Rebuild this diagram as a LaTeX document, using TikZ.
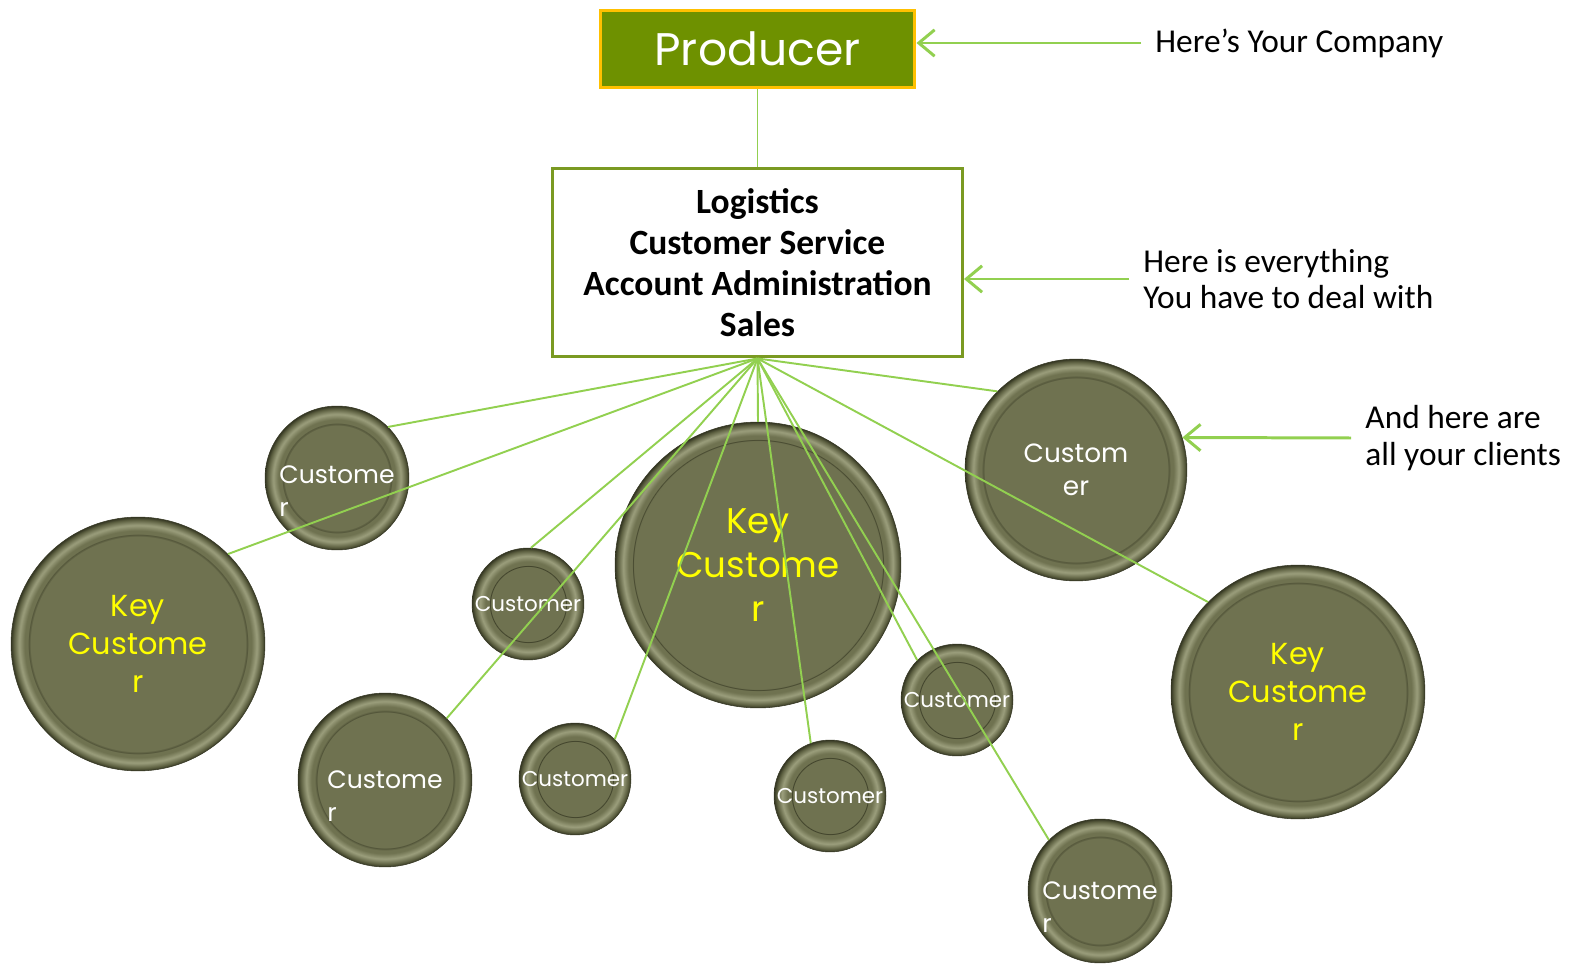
\documentclass[tikz,border=0pt]{standalone}
\usepackage{fontspec}
\setmainfont{Carlito}
\newfontfamily\roundfont{Poppins}
\usetikzlibrary{arrows.meta}
\definecolor{linkgreen}{RGB}{146,208,80}
\definecolor{boxgreen}{RGB}{110,145,0}
\definecolor{boxgold}{RGB}{255,192,0}
\definecolor{rimgreen}{RGB}{122,154,34}
\definecolor{cmain}{RGB}{111,114,80}
\definecolor{cline}{RGB}{66,68,44}
\definecolor{chigh}{RGB}{155,158,124}
\definecolor{cmid}{RGB}{92,95,64}
\definecolor{cedge}{RGB}{52,54,34}
\definecolor{keyyellow}{RGB}{255,255,0}
% bevel shading, #2 = width of the rim in bp (circle radius = 25bp)
\newcommand\makebevel[2]{%
	\pgfmathsetmacro\ra{25-#2-0.05*#2}%
	\pgfmathsetmacro\rb{25-#2}%
	\pgfmathsetmacro\rc{25-#2+0.05*#2}%
	\pgfmathsetmacro\rd{25-0.75*#2}%
	\pgfmathsetmacro\re{25-0.45*#2}%
	\pgfmathsetmacro\rf{25-0.15*#2}%
	\edef\next{\noexpand\pgfdeclareradialshading{#1}{\noexpand\pgfpoint{0bp}{0bp}}{%
		color(0bp)=(cmain); color(\ra bp)=(cmain); color(\rb bp)=(cline); color(\rc bp)=(cmain);
		color(\rd bp)=(cmain); color(\re bp)=(chigh); color(\rf bp)=(cmid); color(25bp)=(cedge); color(50bp)=(cedge)}}%
	\next}
\makebevel{bevel56}{8}
\makebevel{bevel72}{6.25}
\makebevel{bevel87}{5.2}
\makebevel{bevel111}{4.05}
\makebevel{bevel127}{3.55}
\makebevel{bevel143}{3.15}
\tikzset{
	company/.style={draw=boxgold, fill=boxgreen, line width=1.7pt, minimum width=6.3cm, minimum height=1.55cm, text=white, font=\roundfont\fontsize{26}{30}\selectfont}, % the producer
	service/.style={draw=rimgreen, fill=white, line width=1.7pt, minimum width=8.2cm, minimum height=3.78cm, align=center, font=\bfseries\fontsize{20.2}{23.3}\selectfont}, % what you deal with
	disc/.style={circle, draw=cedge, line width=0.3pt, inner sep=0pt, minimum size=#1*0.04cm, shading=bevel#1}, % a customer
	bigtext/.style={text=keyyellow, align=center, font=\roundfont\fontsize{20.3}{25}\selectfont},
	keytext/.style={text=keyyellow, align=center, font=\roundfont\fontsize{17.3}{21.5}\selectfont},
	midtext/.style={text=white, align=left, font=\roundfont\fontsize{14.3}{18.7}\selectfont},
	smalltext/.style={text=white, font=\roundfont\fontsize{12.2}{15}\selectfont},
	link/.style={draw=linkgreen, line width=1.1pt}, % lines to the customers
	pointer/.style={draw=linkgreen, line width=1.7pt, -{Straight Barb[length=9pt, width=15pt, line width=1.7pt]}},
	note/.style={align=left, inner xsep=8pt, font=\fontsize{19}{21}\selectfont}
}

\begin{document}
\begin{tikzpicture}[x=0.02cm, y=-0.02cm]
	\useasboundingbox (0,0) rectangle (1579,969);
	\node[company] (prod) at (757.5,49) {Producer};
	\node[service] (serv) at (757.5,262.5) {Logistics\\Customer Service\\Account Administration\\Sales};
	% customers
	\node[disc=127, keytext] (k0) at (138,644) {Key\\Custome\\r};
	\node[disc=143, bigtext] (k1) at (758,565) {Key\\Custome\\r};
	\node[disc=127, keytext] (k2) at (1298,692) {Key\\Custome\\r};
	\node[disc=72, label={[midtext, yshift=-7.5pt]center:{Custome\\r}}] (c1) at (337,478) {};
	\node[disc=56, smalltext] (c2) at (528,604) {Customer};
	\node[disc=87, label={[midtext, yshift=-9pt]center:{Custome\\r}}] (c3) at (385,780) {};
	\node[disc=56, smalltext] (c4) at (575,779) {Customer};
	\node[disc=56, smalltext] (c5) at (830,796) {Customer};
	\node[disc=56, smalltext] (c6) at (957,700) {Customer};
	\node[disc=72, label={[midtext, yshift=-9pt]center:{Custome\\r}}] (c7) at (1100,891) {};
	\node[disc=111, midtext, align=center, font=\roundfont\fontsize{15}{19}\selectfont] (c8) at (1076,470) {Custom\\er};
	% notes on the right
	\node[note, anchor=west] (t0) at (1141,43) {Here’s Your Company};
	\node[note, anchor=west] (t1) at (1129,279) {Here is everything\\You have to deal with};
	\node[note, anchor=west] (t2) at (1351,438) {And here are\\all your clients};
	\draw[link] (prod) -- (serv);
	\draw[link] (serv.south) edge (c1.45) edge (k0.45) edge (c2.87) edge (c3.45)
		edge (k1.north) edge (c4.45) edge (c5.110) edge (c6.135)
		edge (c7.135) edge (c8.135) edge (k2.135);
	\draw[pointer] (t0.west) -- (prod.east |- t0.west);
	\draw[pointer] (t1.west) -- (serv.east |- t1.west);
	\draw[pointer] (t2.west) -- (c8.17);
\end{tikzpicture}
\end{document}
